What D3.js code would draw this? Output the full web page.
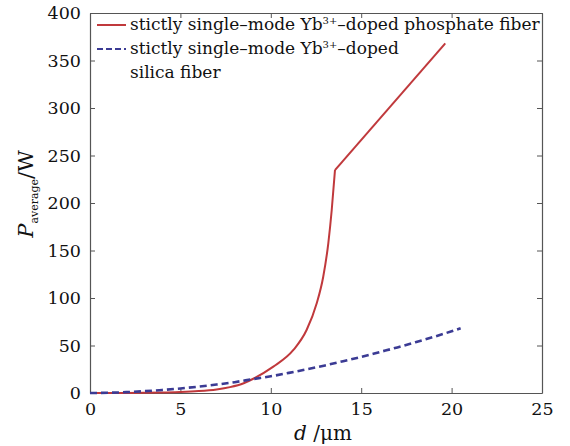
<!DOCTYPE html>
<html><head><meta charset="utf-8">
<script src="https://cdn.jsdelivr.net/npm/d3@7"></script>
<style>body{margin:0;background:#fff}svg{display:block}</style>
</head><body>
<script>
// Data
const xTicks = [0, 5, 10, 15, 20, 25];
const yTicks = [0, 50, 100, 150, 200, 250, 300, 350, 400];
const phosphateD = [0, 2, 4, 5, 6, 7, 7.74, 8.5, 9.03, 10.14, 11.25, 11.98, 12.54, 12.9, 13.18, 13.37, 13.55, 19.65];
const phosphateP = [0, 0.1, 0.4, 1.0, 2.0, 3.8, 6.2, 10.3, 15, 27.7, 45.3, 66.3, 94.4, 122.4, 157.6, 192.6, 234.7, 368];
const silicaD = [0, 1, 2, 3, 4, 5, 6, 7, 8, 9, 10, 11, 12, 13, 14, 15, 16, 17, 18, 19, 20, 20.5];
const silicaP = [0, 0.25, 0.9, 1.9, 3.2, 4.8, 6.7, 8.9, 11.4, 14.6, 17.6, 21.2, 25, 29, 33.5, 38, 43, 48, 53.5, 59, 65, 68.2];
const legendLabels = ["stictly single\u2013mode Yb", "3+", "\u2013doped phosphate fiber",
                      "stictly single\u2013mode Yb", "3+", "\u2013doped", "silica fiber"];

const W = 570, H = 446;
const L = 90, R = 542, T = 13, B = 393;
const FONT = "'DejaVu Serif', 'Liberation Serif', serif";
const axisColor = "#555";
const red = "#c0393c", blue = "#3b3b94";

const svg = d3.select("body").append("svg").attr("width", W).attr("height", H)
  .style("font-family", FONT);

const x = d3.scaleLinear().domain([0, 25]).range([L, R]);
const y = d3.scaleLinear().domain([0, 400]).range([B, T]);

// axes with inward ticks
const tl = 5;
const gx = svg.append("g").attr("transform", `translate(0,${B})`)
  .call(d3.axisBottom(x).tickValues(xTicks).tickSizeInner(-tl).tickSizeOuter(0).tickPadding(10));
const gxTop = svg.append("g").attr("transform", `translate(0,${T})`)
  .call(d3.axisTop(x).tickValues(xTicks).tickSizeInner(-tl).tickSizeOuter(0).tickFormat(""));
const gy = svg.append("g").attr("transform", `translate(${L},0)`)
  .call(d3.axisLeft(y).tickValues(yTicks).tickSizeInner(-tl).tickSizeOuter(0).tickPadding(9));
const gyR = svg.append("g").attr("transform", `translate(${R},0)`)
  .call(d3.axisRight(y).tickValues(yTicks).tickSizeInner(-tl).tickSizeOuter(0).tickFormat(""));
[gx, gxTop, gy, gyR].forEach(g => {
  g.selectAll("path.domain").attr("stroke", axisColor).attr("stroke-width", 1.2);
  g.selectAll(".tick line").attr("stroke", axisColor).attr("stroke-width", 1);
  g.selectAll(".tick text").attr("fill", "#111").style("font-size", "17.5px").style("font-family", FONT);
});

// lines
const line = d3.line().x(d => x(d[0])).y(d => y(d[1]));
const silica = silicaD.map((d, i) => [d, silicaP[i]]);
const phosphate = phosphateD.map((d, i) => [d, phosphateP[i]]);
const curve = d3.line().x(d => x(d[0])).y(d => y(d[1])).curve(d3.curveMonotoneX);

svg.append("path").datum(phosphate.slice(0, phosphate.length - 1))
  .attr("d", curve).attr("fill", "none").attr("stroke", red).attr("stroke-width", 2);
svg.append("path").datum(phosphate.slice(phosphate.length - 2))
  .attr("d", line).attr("fill", "none").attr("stroke", red).attr("stroke-width", 2);
svg.append("path").datum(silica)
  .attr("d", curve).attr("fill", "none").attr("stroke", blue).attr("stroke-width", 2.6)
  .attr("stroke-dasharray", "7,4");

// legend
const lg = svg.append("g");
const fs = 17;
function legendRow(yy, parts) {
  const t = lg.append("text").attr("x", 130).attr("y", yy).attr("fill", "#111").style("font-size", fs + "px");
  parts.forEach(p => {
    const ts = t.append("tspan").text(p.t);
    if (p.sup) ts.attr("dy", -6).style("font-size", "10px");
    if (p.down) ts.attr("dy", 6);
  });
}
lg.append("line").attr("x1", 97).attr("x2", 126).attr("y1", 25).attr("y2", 25)
  .attr("stroke", red).attr("stroke-width", 2);
legendRow(30, [{t: legendLabels[0]}, {t: legendLabels[1], sup: true}, {t: legendLabels[2], down: true}]);
lg.append("line").attr("x1", 97).attr("x2", 126).attr("y1", 49).attr("y2", 49)
  .attr("stroke", blue).attr("stroke-width", 2).attr("stroke-dasharray", "6,3");
legendRow(54, [{t: legendLabels[3]}, {t: legendLabels[4], sup: true}, {t: legendLabels[5], down: true}]);
legendRow(78, [{t: legendLabels[6]}]);

// axis titles
const xt = svg.append("text").attr("x", 323).attr("y", 440).attr("text-anchor", "middle")
  .attr("fill", "#111").style("font-size", "20px");
xt.append("tspan").text("d").style("font-style", "italic");
xt.append("tspan").text(" /\u03bcm");

const yt = svg.append("text").attr("transform", `translate(33,194) rotate(-90)`)
  .attr("text-anchor", "middle").attr("fill", "#111").style("font-size", "21px");
yt.append("tspan").text("P").style("font-style", "italic");
yt.append("tspan").text("average").attr("dy", 5).style("font-size", "11px");
yt.append("tspan").text("/W").attr("dy", -5);
</script>
</body></html>
